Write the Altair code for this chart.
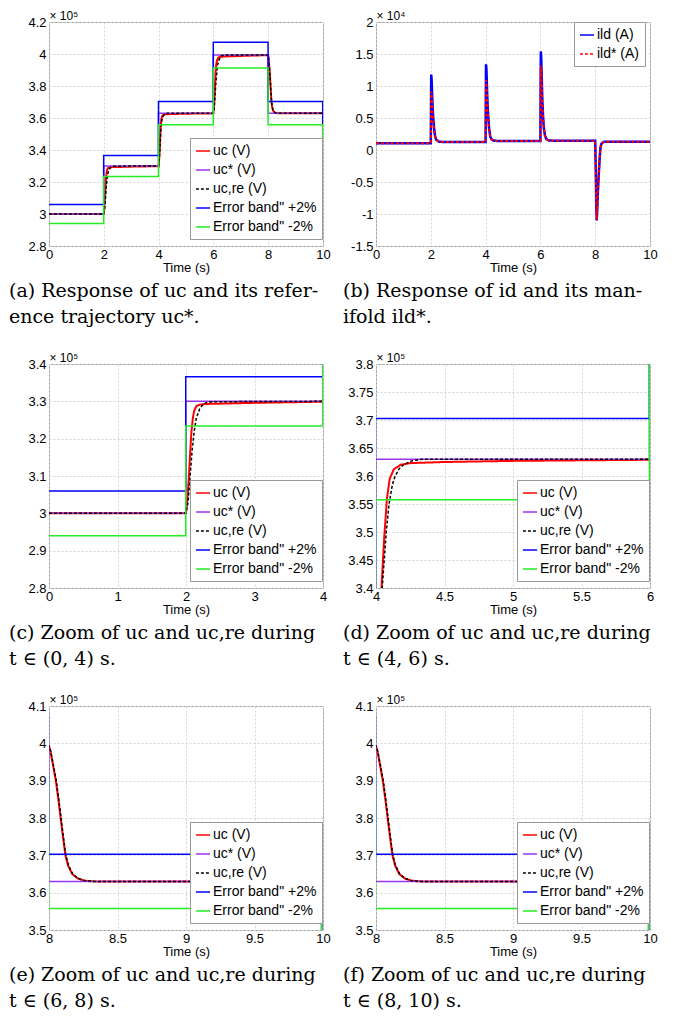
import altair as alt
import pandas as pd

# ---------------- data ----------------
# step reference u_c* and the +/-2 % error bands (value holds from each breakpoint to the next)
band_t = [0, 1.996, 3.996, 5.996, 7.996, 9.99]
uc_ref = [300000, 330000, 363000, 399300, 363000, 330000]
band_up = [306000, 336600, 370260, 407290, 370260, 336600]
band_lo = [294000, 323400, 355740, 391310, 355740, 323400]

# measured u_c
uc_t = [0, 2.0, 2.02, 2.04, 2.06, 2.08, 2.10, 2.12, 2.15, 2.2, 2.3, 3.0, 4.0,
        4.02, 4.04, 4.06, 4.08, 4.10, 4.13, 4.18, 4.25, 4.5, 5.0, 6.0,
        6.02, 6.04, 6.06, 6.08, 6.10, 6.13, 6.18, 6.25, 6.5, 7.0, 8.0,
        8.01, 8.025, 8.05, 8.07, 8.085, 8.10, 8.12, 8.14, 8.17, 8.21, 8.26, 8.33, 10.0]
uc_v = [300000, 300000, 304000, 309000, 316000, 322000, 325500, 327500, 328700, 329100, 329300, 329600, 329900,
        334000, 340000, 349000, 356000, 359500, 361200, 362000, 362300, 362500, 362700, 362900,
        367000, 373000, 381000, 389000, 393000, 396000, 397800, 398200, 398500, 398800, 399300,
        398000, 395000, 390000, 384500, 380000, 375500, 370000, 367200, 365000, 363800, 363200, 363000, 363000]

# reference trajectory u_c,re
ucre_t = [0, 2.0, 2.03, 2.06, 2.09, 2.12, 2.15, 2.2, 2.25, 2.3, 2.4, 4.0,
          4.02, 4.045, 4.075, 4.095, 4.12, 4.14, 4.17, 4.2, 4.26, 4.34, 6.0,
          6.03, 6.06, 6.09, 6.12, 6.15, 6.2, 6.25, 6.3, 6.4, 8.0,
          8.012, 8.028, 8.053, 8.073, 8.088, 8.103, 8.123, 8.143, 8.173, 8.213, 8.263, 8.34, 10.0]
ucre_v = [300000, 300000, 303000, 310000, 317000, 322000, 325500, 328000, 329200, 329700, 329900, 330000,
          333000, 340000, 350000, 355000, 358500, 360000, 361300, 362000, 362700, 363000, 363000,
          366000, 374000, 382000, 388000, 393000, 396000, 398000, 399000, 399300, 399300,
          398000, 395000, 390000, 384500, 380000, 375500, 370000, 367200, 365000, 363800, 363200, 363000, 363000]

# i_ld and its manifold i*_ld
ild_t = [0, 2.0, 2.015, 2.03, 2.05, 2.07, 2.1, 2.13, 2.16, 2.2, 2.3, 2.5,
         4.0, 4.015, 4.03, 4.05, 4.07, 4.1, 4.13, 4.17, 4.22, 4.3, 4.5,
         6.0, 6.015, 6.03, 6.05, 6.07, 6.1, 6.13, 6.17, 6.22, 6.3, 6.5,
         8.0, 8.02, 8.04, 8.055, 8.07, 8.09, 8.11, 8.13, 8.16, 8.19, 8.23, 8.3, 8.4, 10.0]
ild_v = [1050, 1050, 11800, 11000, 8500, 6300, 4400, 3000, 2100, 1600, 1300, 1250,
         1250, 13400, 12600, 9800, 7200, 5000, 3300, 2100, 1650, 1450, 1400,
         1400, 15400, 14400, 11200, 7800, 5000, 3300, 2200, 1700, 1500, 1450,
         1450, -3000, -9000, -11000, -9800, -7500, -5500, -3900, -1500, 300, 1000, 1250, 1300, 1300]
ild_ref_v = [1050, 1050, 9100, 8800, 7200, 5600, 4100, 2900, 2050, 1600, 1300, 1250,
             1250, 10900, 10500, 8700, 6600, 4700, 3200, 2050, 1650, 1450, 1400,
             1400, 13200, 12700, 10200, 7300, 4800, 3200, 2150, 1700, 1500, 1450,
             1450, -2800, -8800, -10900, -9700, -7400, -5400, -3800, -1400, 300, 1000, 1250, 1300, 1300]

U_SERIES = ["uc (V)", "uc* (V)", "uc,re (V)", 'Error band" +2%', 'Error band" -2%']
U_COLORS = ["#ff0000", "#9933ee", "#000000", "#0000ff", "#22ee22"]
U_DASH = [[1, 0], [1, 0], [3, 2], [1, 0], [1, 0]]
U_WIDTH = [2, 1.5, 1.5, 1.5, 1.5]
U_INTERP = ["linear", "step-after", "linear", "step-after", "step-after"]

I_SERIES = ["ild (A)", "ild* (A)"]
I_COLORS = ["#0000ff", "#ff0000"]
I_DASH = [[1, 0], [3, 2]]
I_WIDTH = [2.5, 2]

u_df = pd.concat([
    pd.DataFrame({"t": uc_t, "v": uc_v, "s": U_SERIES[0]}),
    pd.DataFrame({"t": band_t, "v": uc_ref, "s": U_SERIES[1]}),
    pd.DataFrame({"t": ucre_t, "v": ucre_v, "s": U_SERIES[2]}),
    pd.DataFrame({"t": band_t, "v": band_up, "s": U_SERIES[3]}),
    pd.DataFrame({"t": band_t, "v": band_lo, "s": U_SERIES[4]}),
], ignore_index=True)

i_df = pd.concat([
    pd.DataFrame({"t": ild_t, "v": ild_v, "s": I_SERIES[0]}),
    pd.DataFrame({"t": ild_t, "v": ild_ref_v, "s": I_SERIES[1]}),
], ignore_index=True)

SANS = "Liberation Sans"
SERIF = "DejaVu Serif"


def x_axis(ticks):
    return alt.Axis(values=ticks, format="~r", title="Time (s)", titlePadding=0,
                    labelPadding=2, labelFlush=False)


def y_axis(ticks, scale, exp_text):
    return alt.Axis(values=ticks, labelExpr="replace(format(datum.value / %d, '~r'), '\u2212', '-')" % scale,
                    title=exp_text, titleAngle=0, titleX=0, titleY=0, titleAlign="left",
                    titleBaseline="bottom", titleFontSize=12, labelPadding=3, labelFlush=False)


def legend(lx, ly):
    return alt.Legend(title=None, orient="none", legendX=lx, legendY=ly,
                      fillColor="white", strokeColor="#999999", padding=5,
                      symbolType="stroke", symbolSize=200, symbolStrokeWidth=1.5,
                      labelFont=SANS, labelFontSize=14, labelColor="black",
                      rowPadding=4, labelOffset=2)


def caption(lines, dx):
    return alt.TitleParams(text=lines, orient="bottom", anchor="start", frame="group",
                           dx=dx, offset=8, font=SERIF, fontSize=19, fontWeight="normal",
                           lineHeight=26, color="black")


def u_panel(xdom, xticks, ydom, yticks, cap, dx):
    layers = []
    for name, w, interp in zip(U_SERIES, U_WIDTH, U_INTERP):
        layers.append(
            alt.Chart(u_df)
            .transform_filter(alt.FieldEqualPredicate(field="s", equal=name))
            .mark_line(clip=True, strokeWidth=w, interpolate=interp)
            .encode(
                x=alt.X("t:Q", scale=alt.Scale(domain=xdom, nice=False, zero=False), axis=x_axis(xticks)),
                y=alt.Y("v:Q", scale=alt.Scale(domain=ydom, nice=False, zero=False),
                        axis=y_axis(yticks, 100000, "× 10⁵")),
                color=alt.Color("s:N", scale=alt.Scale(domain=U_SERIES, range=U_COLORS), legend=legend(141, 116)),
                strokeDash=alt.StrokeDash("s:N", scale=alt.Scale(domain=U_SERIES, range=U_DASH),
                                          legend=legend(141, 116)),
            )
        )
    return alt.layer(*layers).properties(width=274, height=224, title=caption(cap, dx))


def i_panel(cap, dx):
    layers = []
    for name, w in zip(I_SERIES, I_WIDTH):
        layers.append(
            alt.Chart(i_df)
            .transform_filter(alt.FieldEqualPredicate(field="s", equal=name))
            .mark_line(clip=True, strokeWidth=w)
            .encode(
                x=alt.X("t:Q", scale=alt.Scale(domain=[0, 10], nice=False, zero=False),
                        axis=x_axis([0, 2, 4, 6, 8, 10])),
                y=alt.Y("v:Q", scale=alt.Scale(domain=[-15000, 20000], nice=False, zero=False),
                        axis=y_axis([-15000, -10000, -5000, 0, 5000, 10000, 15000, 20000], 10000, "× 10⁴")),
                color=alt.Color("s:N", scale=alt.Scale(domain=I_SERIES, range=I_COLORS), legend=legend(198, 0)),
                strokeDash=alt.StrokeDash("s:N", scale=alt.Scale(domain=I_SERIES, range=I_DASH),
                                          legend=legend(198, 0)),
            )
        )
    return alt.layer(*layers).properties(width=274, height=224, title=caption(cap, dx))


pa = u_panel([0, 10], [0, 2, 4, 6, 8, 10], [280000, 420000],
             [280000, 300000, 320000, 340000, 360000, 380000, 400000, 420000],
             ["(a) Response of uc and its refer-", "ence trajectory uc*."], -40)
pb = i_panel(["(b) Response of id and its man-", "ifold ild*."], -33)
pc = u_panel([0, 4], [0, 1, 2, 3, 4], [280000, 340000],
             [280000, 290000, 300000, 310000, 320000, 330000, 340000],
             ["(c) Zoom of uc and uc,re during", "t ∈ (0, 4) s."], -40)
pd_ = u_panel([4, 6], [4, 4.5, 5, 5.5, 6], [340000, 380000],
              [340000, 345000, 350000, 355000, 360000, 365000, 370000, 375000, 380000],
              ["(d) Zoom of uc and uc,re during", "t ∈ (4, 6) s."], -33)
pe = u_panel([8, 10], [8, 8.5, 9, 9.5, 10], [350000, 410000],
             [350000, 360000, 370000, 380000, 390000, 400000, 410000],
             ["(e) Zoom of uc and uc,re during", "t ∈ (6, 8) s."], -40)
pf = u_panel([8, 10], [8, 8.5, 9, 9.5, 10], [350000, 410000],
             [350000, 360000, 370000, 380000, 390000, 400000, 410000],
             ["(f) Zoom of uc and uc,re during", "t ∈ (8, 10) s."], -33)

chart = (
    alt.concat(pa, pb, pc, pd_, pe, pf, columns=2, spacing={"row": 118, "column": 53}, bounds="flush")
    .resolve_scale(color="independent", strokeDash="independent")
    .resolve_legend(color="independent", strokeDash="independent")
    .properties(padding={"left": 0, "top": 0, "right": 0, "bottom": 0})
    .configure_view(stroke="#a0a0a0", strokeWidth=1)
    .configure_axis(labelFont=SANS, labelFontSize=13, labelColor="black",
                    titleFont=SANS, titleFontSize=13, titleFontWeight="normal", titleColor="black",
                    grid=True, gridColor="#d4d4d4", gridDash=[2, 2], domain=False, ticks=False)
)

chart.save("out.html", embed_options={"renderer": "svg", "actions": False})
